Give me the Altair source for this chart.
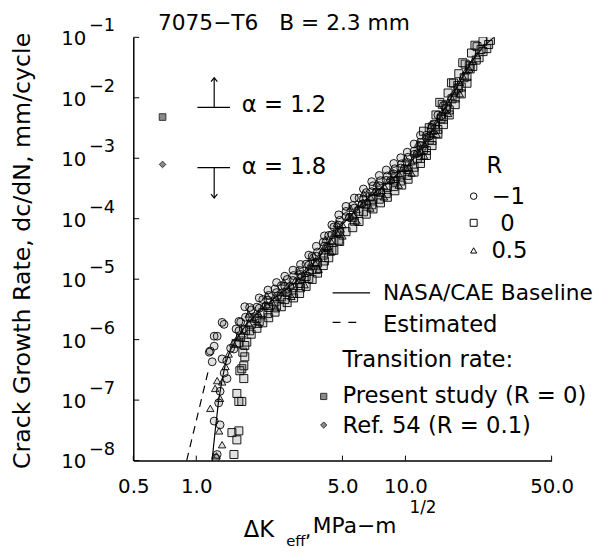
import altair as alt
import pandas as pd

# ---------------- data ----------------
# R = -1 (circles)
circ_dk = [1.706, 1.358, 1.329, 1.218, 1.259, 1.167, 1.154, 1.192, 1.329, 1.514, 1.218, 1.403,
           1.218, 1.300, 1.259, 1.24,
           1.55, 1.63, 1.72, 1.83, 1.95, 2.08, 2.22, 2.38, 2.55, 2.72, 2.92, 3.12, 3.35, 3.58,
           3.80, 4.05, 4.30, 4.55, 4.85, 5.2, 5.6, 6.0, 6.5, 7.0, 7.6, 8.2, 8.9, 9.6, 10.3,
           11.0, 11.8, 12.6, 13.4, 14.3, 15.2,
           1.68, 1.9, 2.15, 2.45, 2.8, 3.2, 3.7, 4.2, 4.7, 5.4, 6.2, 7.3, 8.5, 9.9, 11.4, 13.0, 14.8,
           1.30, 1.36, 1.40, 1.46, 1.28,
           1.6, 1.8, 2.0, 2.2, 2.42, 2.65, 2.9, 3.15, 3.45, 3.75, 4.1, 4.45, 4.8, 5.2, 5.7, 6.3, 6.9,
           7.5, 8.1, 8.8, 9.5, 10.2, 11.0, 11.8, 12.6, 13.4,
           1.6, 1.8, 2.0, 2.2, 2.42, 2.65, 2.9, 3.15, 3.45, 3.75, 4.1, 4.45, 4.8, 5.2, 5.7, 6.3, 6.9,
           7.5, 8.1, 8.8, 9.5, 10.2, 11.0, 11.8]
circ_rate = [3.5e-6, 1.79e-6, 1.93e-6, 1.14e-6, 1.14e-6, 6.5e-7, 6.2e-7, 4.3e-7, 4.8e-7, 7.0e-7, 7.8e-7, 2.27e-7,
             4.5e-8, 3.9e-8, 1.26e-8, 1.1e-8,
             1.5e-6, 1.95e-6, 2.35e-6, 3.1e-6, 3.45e-6, 4.6e-6, 5.4e-6, 6.9e-6, 7.8e-6, 9.9e-6, 1.15e-5, 1.4e-5,
             1.77e-5, 2.4e-5, 2.8e-5, 4.1e-5, 5.3e-5, 7.3e-5, 9.4e-5, 1.32e-4, 1.65e-4, 2.2e-4, 2.7e-4, 3.5e-4,
             4.25e-4, 5.1e-4, 6.7e-4, 8.1e-4, 1.04e-3, 1.31e-3, 1.83e-3, 2.4e-3, 3.5e-3, 5.2e-3, 7.5e-3,
             1.5e-6, 2.4e-6, 3.6e-6, 5.3e-6, 7.5e-6, 1.1e-5, 1.9e-5, 3.4e-5, 6.0e-5, 1.05e-4, 1.75e-4, 2.8e-4,
             4.3e-4, 6.8e-4, 1.2e-3, 2.3e-3, 5.0e-3,
             1.4e-7, 2.8e-7, 4.5e-7, 7.2e-7, 9e-8,
             1.4e-6, 2.3e-6, 3.3e-6, 4.5e-6, 6.0e-6, 7.6e-6, 9.5e-6, 1.2e-5, 1.7e-5, 2.4e-5, 3.5e-5, 5.4e-5,
             7.8e-5, 1.08e-4, 1.5e-4, 2.1e-4, 2.8e-4, 3.5e-4, 4.3e-4, 5.5e-4, 6.9e-4, 8.5e-4, 1.16e-3,
             1.62e-3, 2.2e-3, 3.2e-3,
             2.0e-6, 3.4e-6, 4.9e-6, 6.6e-6, 8.8e-6, 1.12e-5, 1.41e-5, 1.75e-5, 2.5e-5, 3.5e-5, 5.2e-5, 7.9e-5,
             1.16e-4, 1.6e-4, 2.2e-4, 3.1e-4, 4.1e-4, 5.2e-4, 6.4e-4, 8.2e-4, 1.02e-3, 1.26e-3, 1.72e-3, 2.4e-3]

# R = 0 (squares)
sq_dk = [1.744, 1.706, 1.67, 1.688, 1.651, 1.616, 1.688, 1.564, 1.598, 1.651, 1.481, 1.598, 1.564, 1.514, 1.706,
         1.6, 1.8, 2.0, 2.2, 2.42, 2.65, 2.9, 3.15, 3.45, 3.75, 4.1, 4.45, 4.8, 5.2, 5.7, 6.3, 6.9, 7.5, 8.1,
         8.8, 9.5, 10.2, 11.0, 11.8, 12.6, 13.4, 14.3, 15.2, 16.2, 17.3, 18.5, 19.7, 21.0, 22.5, 24.5,
         13.0, 14.0, 15.0, 16.0, 17.0, 18.0, 19.3, 20.7, 22.0, 23.5, 25.5,
         12.0, 13.8, 15.6, 17.8, 20.2, 23.0, 9.0, 6.8,
         1.55, 1.63, 1.72, 1.83, 1.95, 2.08, 2.22, 2.38, 2.55, 2.72, 2.92, 3.12, 3.35, 3.58, 3.80, 4.05,
         4.30, 4.55, 4.85, 5.6, 6.0, 6.5, 7.0, 7.6, 8.2, 8.9, 9.6, 10.3, 11.4, 12.2, 13.0, 13.9, 14.8,
         15.7, 16.7, 17.9, 19.1, 20.4, 21.8, 23.5, 25.0,
         1.83, 1.95, 2.08, 2.22, 2.38, 2.55, 2.72, 2.92, 3.12, 3.35, 3.58, 3.80, 4.05, 4.30, 4.55, 4.85,
         5.6, 6.0, 6.5, 7.0, 7.6, 8.2, 8.9, 9.6, 10.3, 11.0, 11.8, 12.6, 13.4, 14.3, 15.2, 16.2, 17.3,
         18.5, 19.7,
         12.2, 14.6, 16.6, 18.8, 21.5]
sq_rate = [9.1e-7, 5.2e-7, 6.2e-7, 3.7e-7, 3.3e-7, 3.06e-7, 2.27e-7, 1.29e-7, 9.5e-8, 9.5e-8, 2.9e-8, 3.1e-8,
           2.2e-8, 1.26e-8, 8.0e-7,
           8.9e-7, 1.4e-6, 2.0e-6, 2.7e-6, 3.6e-6, 4.6e-6, 5.8e-6, 7.2e-6, 1.03e-5, 1.44e-5, 2.0e-5, 3.0e-5,
           4.4e-5, 6.1e-5, 9.1e-5, 1.3e-4, 1.7e-4, 2.1e-4, 2.6e-4, 3.4e-4, 4.2e-4, 5.2e-4, 7.1e-4, 9.9e-4,
           1.34e-3, 1.96e-3, 3.0e-3, 4.4e-3, 6.3e-3, 9.9e-3, 1.5e-2, 2.25e-2, 3.3e-2, 4.6e-2, 6.5e-2,
           3.2e-3, 5.2e-3, 7.8e-3, 1.2e-2, 1.75e-2, 2.5e-2, 3.6e-2, 5.5e-2, 7.0e-2, 8.6e-2, 8.9e-2,
           1.6e-3, 3.6e-3, 7.3e-3, 1.6e-2, 3.4e-2, 6.3e-2, 5.0e-4, 2.3e-4,
           8.6e-7, 1.1e-6, 1.43e-6, 1.8e-6, 2.25e-6, 2.8e-6, 3.4e-6, 4.2e-6, 5.1e-6, 6.0e-6, 7.2e-6, 8.5e-6,
           1.11e-5, 1.45e-5, 1.85e-5, 2.5e-5, 3.3e-5, 4.4e-5, 6.1e-5, 1.04e-4, 1.33e-4, 1.74e-4, 2.1e-4,
           2.7e-4, 3.3e-4, 4.2e-4, 5.3e-4, 6.5e-4, 1.0e-3, 1.4e-3, 2.0e-3, 3.0e-3, 4.5e-3, 6.6e-3, 9.6e-3,
           1.45e-2, 2.15e-2, 3.0e-2, 4.2e-2, 5.8e-2, 7.6e-2,
           1.23e-6, 1.54e-6, 1.9e-6, 2.3e-6, 2.85e-6, 3.5e-6, 4.1e-6, 4.9e-6, 5.8e-6, 7.6e-6, 9.9e-6, 1.26e-5,
           1.68e-5, 2.26e-5, 3.0e-5, 4.2e-5, 7.1e-5, 9.0e-5, 1.19e-4, 1.45e-4, 1.83e-4, 2.26e-4, 2.9e-4,
           3.6e-4, 4.5e-4, 5.9e-4, 8.2e-4, 1.11e-3, 1.62e-3, 2.5e-3, 3.6e-3, 5.2e-3, 7.7e-3, 1.16e-2, 1.74e-2,
           2.8e-3, 8.4e-3, 1.77e-2, 3.8e-2, 7.4e-2]

# R = 0.5 (triangles)
tri_dk = [1.231, 1.167, 1.300, 1.286, 1.329, 1.259,
          1.33, 1.38, 1.43, 1.50, 1.25,
          1.58, 1.78, 1.98, 2.18, 2.4, 2.62, 2.85, 3.08, 3.3, 3.55, 3.85, 4.15, 4.4, 4.7, 5.0, 5.45, 5.85,
          6.3, 6.8, 7.3, 7.9, 8.6, 9.3, 10.0, 10.7, 11.5, 12.3, 13.2, 14.1, 15.0, 16.0, 17.0, 18.2, 19.5, 21.0,
          1.65, 1.88, 2.1, 2.3, 2.52, 2.75, 2.98, 3.22, 3.45, 3.7, 4.0, 4.28, 4.58, 4.9, 5.3, 5.65, 6.1,
          6.6, 7.1, 7.7, 8.3, 8.95, 9.7, 10.4, 11.2, 11.9, 12.8, 13.6, 14.6, 15.5, 16.5, 17.6, 18.8, 20.2, 22.0,
          1.78, 2.18, 2.62, 3.08, 3.55, 4.15, 4.7, 5.45, 6.3, 7.3, 8.6, 10.0, 11.5, 13.2,
          1.98, 2.4, 2.85, 3.3, 3.85, 4.4, 5.0, 5.85, 6.8, 7.9, 9.3, 10.7, 12.3, 14.1, 16.0, 18.2]
tri_rate = [1.56e-7, 7.3e-8, 1.07e-7, 3.1e-8, 1.83e-8, 2.1e-7,
            2.0e-7, 3.6e-7, 5.8e-7, 8.8e-7, 1.2e-8,
            1.1e-6, 1.9e-6, 2.75e-6, 3.8e-6, 5.0e-6, 6.4e-6, 8.0e-6, 9.6e-6, 1.25e-5, 1.65e-5, 2.25e-5, 3.3e-5,
            4.3e-5, 6.0e-5, 8.0e-5, 1.08e-4, 1.42e-4, 1.85e-4, 2.3e-4, 2.8e-4, 3.5e-4, 4.4e-4, 5.6e-4, 7.0e-4,
            8.8e-4, 1.25e-3, 1.7e-3, 2.5e-3, 3.9e-3, 5.8e-3, 8.5e-3, 1.2e-2, 1.8e-2, 2.8e-2, 4.0e-2,
            1.25e-6, 2.2e-6, 3.6e-6, 4.2e-6, 6.0e-6, 6.9e-6, 9.6e-6, 1.0e-5, 1.6e-5, 1.85e-5, 2.95e-5, 3.5e-5,
            5.8e-5, 6.8e-5, 1.08e-4, 1.15e-4, 1.8e-4, 1.95e-4, 2.85e-4, 2.95e-4, 4.3e-4, 4.5e-4, 6.9e-4,
            7.0e-4, 1.2e-3, 1.3e-3, 2.3e-3, 2.8e-3, 5.0e-3, 6.2e-3, 1.05e-2, 1.35e-2, 2.3e-2, 3.0e-2, 5.0e-2,
            2.66e-6, 5.3e-6, 9.0e-6, 1.34e-5, 2.3e-5, 4.6e-5, 8.4e-5, 1.5e-4, 2.6e-4, 3.9e-4, 6.2e-4, 9.8e-4,
            1.75e-3, 3.5e-3,
            1.8e-6, 3.25e-6, 5.2e-6, 8.1e-6, 1.46e-5, 2.8e-5, 5.2e-5, 9.2e-5, 1.5e-4, 2.3e-4, 3.6e-4, 5.7e-4,
            1.1e-3, 2.5e-3, 5.5e-3, 1.17e-2]

# NASA/CAE baseline (solid) and estimated (dashed)
base_dk = [1.19, 1.23, 1.28, 1.33, 1.38, 1.45, 1.55, 1.74, 2.05, 2.47, 3.17, 3.94, 4.9, 6.4, 8.4, 10.5,
           12.7, 14.8, 17.1, 20.1, 23.6, 26.5]
base_rate = [1e-8, 3e-8, 1e-7, 2.2e-7, 4.0e-7, 6.5e-7, 1.0e-6, 1.8e-6, 3.2e-6, 5.5e-6, 1.05e-5, 2.5e-5,
             7.5e-5, 2.0e-4, 4.2e-4, 8.2e-4, 2.0e-3, 5.3e-3, 1.22e-2, 3.4e-2, 7.1e-2, 1e-1]
est_dk = [0.90, 1.14]
est_rate = [1e-8, 3e-7]

# transition rates
trans_dk = [0.69, 0.69]
trans_rate = [4.8e-3, 7.9e-4]

x_ticks = [0.5, 1.0, 5.0, 10.0, 50.0]
y_ticks = [1e-1, 1e-2, 1e-3, 1e-4, 1e-5, 1e-6, 1e-7, 1e-8]
y_exp = ["\u22121", "\u22122", "\u22123", "\u22124", "\u22125", "\u22126", "\u22127", "\u22128"]

# ---------------- chart ----------------
W, H = 424, 429
FONT = "DejaVu Sans"
xs = alt.Scale(type="log", domain=[0.5, 50], nice=False)
ys = alt.Scale(type="log", domain=[1e-8, 1e-1], nice=False)
xax = alt.Axis(values=x_ticks, format=".1f", ticks=False, grid=False, title=None,
               labelFont=FONT, labelFontSize=20, labelColor="black",
               labelPadding=16, labelFlush=False, domainColor="black", domainWidth=1.5)
yax = alt.Axis(labels=False, ticks=False, grid=False, title=None, domainColor="black", domainWidth=1.5)


def X(f):
    return alt.X(f, scale=xs, axis=xax)


def Y(f):
    return alt.Y(f, scale=ys, axis=yax)


def series(dk, rate, shape, size):
    df = pd.DataFrame({"dk": dk, "rate": rate})
    return alt.Chart(df).mark_point(shape=shape, size=size, fill="#444444", fillOpacity=0.16,
                                    stroke="black", strokeWidth=1, strokeOpacity=0.9, clip=True).encode(
        x=X("dk:Q"), y=Y("rate:Q"))


def txt(s, x, y, size=23, align="left", baseline="alphabetic", angle=0):
    return alt.Chart(pd.DataFrame({"t": [s]})).mark_text(
        align=align, baseline=baseline, fontSize=size, font=FONT, color="black", angle=angle
    ).encode(x=alt.value(x), y=alt.value(y), text="t:N")


def sym(shape, x, y, size, fill="white", stroke="black"):
    return alt.Chart(pd.DataFrame({"a": [0]})).mark_point(
        shape=shape, size=size, fill=fill, stroke=stroke, strokeWidth=1, opacity=1, fillOpacity=1
    ).encode(x=alt.value(x), y=alt.value(y))


def seg(x1, x2, y1, y2, dash=None):
    kw = dict(color="black", strokeWidth=1.2)
    if dash:
        kw["strokeDash"] = dash
    return alt.Chart(pd.DataFrame({"a": [0]})).mark_rule(**kw).encode(
        x=alt.value(x1), x2=alt.value(x2), y=alt.value(y1), y2=alt.value(y2))


base = alt.Chart(pd.DataFrame({"dk": base_dk, "rate": base_rate})).mark_line(
    color="black", strokeWidth=1.2, clip=True).encode(x=X("dk:Q"), y=Y("rate:Q"))

est = alt.Chart(pd.DataFrame({"dk": est_dk, "rate": est_rate})).mark_line(
    color="black", strokeWidth=1.2, strokeDash=[8, 6], clip=True).encode(x=X("dk:Q"), y=Y("rate:Q"))

trans_sq = alt.Chart(pd.DataFrame({"dk": trans_dk[:1], "rate": trans_rate[:1]})).mark_point(
    shape="square", size=45, fill="#8a8a8a", stroke="#333333", strokeWidth=1, opacity=1, fillOpacity=1).encode(
    x=X("dk:Q"), y=Y("rate:Q"))
trans_di = alt.Chart(pd.DataFrame({"dk": trans_dk[1:], "rate": trans_rate[1:]})).mark_point(
    shape="diamond", size=45, fill="#8a8a8a", stroke="#333333", strokeWidth=1, opacity=1, fillOpacity=1).encode(
    x=X("dk:Q"), y=Y("rate:Q"))

xt = alt.Chart(pd.DataFrame({"v": x_ticks})).mark_rule(color="black", strokeWidth=1).encode(
    x=X("v:Q"), y=alt.value(H), y2=alt.value(H - 5))
yt = alt.Chart(pd.DataFrame({"v": y_ticks})).mark_rule(color="black", strokeWidth=1).encode(
    y=Y("v:Q"), x=alt.value(0), x2=alt.value(6))

ydf = pd.DataFrame({"v": y_ticks, "b": ["10"] * len(y_ticks), "e": y_exp})
ylab = alt.Chart(ydf).mark_text(align="left", baseline="middle", fontSize=20, font=FONT, color="black",
                                dy=2).encode(y=Y("v:Q"), x=alt.value(-73), text="b:N")
yexp = alt.Chart(ydf).mark_text(align="left", baseline="alphabetic", fontSize=18, font=FONT, color="black",
                                dy=-6).encode(y=Y("v:Q"), x=alt.value(-45), text="e:N")

up_head = "M-0.8,1L0,0L0.8,1"
down_head = "M-0.8,-1L0,0L0.8,-1"
arrows = [
    seg(65, 98, 71, 71), seg(82, 82, 71, 42),
    alt.Chart(pd.DataFrame({"a": [0]})).mark_point(shape=up_head, size=64, filled=False, stroke="black",
                                                   strokeWidth=1.2, opacity=1).encode(x=alt.value(82), y=alt.value(41)),
    seg(65, 98, 132, 132), seg(82, 82, 132, 162),
    alt.Chart(pd.DataFrame({"a": [0]})).mark_point(shape=down_head, size=64, filled=False, stroke="black",
                                                   strokeWidth=1.2, opacity=1).encode(x=alt.value(82), y=alt.value(163)),
]

texts = [
    txt("7075\u2212T6", 25, -7, size=22),
    txt("B = 2.3 mm", 148, -7, size=22),
    txt("\u03b1 = 1.2", 110, 76),
    txt("\u03b1 = 1.8", 110, 139),
    txt("R", 358, 138),
    txt("\u22121", 363, 169),
    txt("0", 372, 196),
    txt("0.5", 363, 224),
    txt("NASA/CAE Baseline", 253, 266, size=22),
    txt("Estimated", 253, 299),
    txt("Transition rate:", 212, 334),
    txt("Present study (R = 0)", 212, 371),
    txt("Ref. 54 (R = 0.1)", 212, 401),
    txt("Crack Growth Rate, dc/dN, mm/cycle", -112, H / 2 + 2, size=24, align="center", baseline="middle",
        angle=270),
    txt("\u0394K", 112, 506, size=23),
    txt("eff", 155, 516, size=15),
    txt(",", 174, 506, size=20),
    txt("MPa\u2212m", 182, 502, size=22),
    txt("1/2", 280, 482, size=17),
]

legend_syms = [
    sym("circle", 345, 161, 44),
    sym("square", 345, 188, 50),
    sym("triangle-up", 345, 216, 38),
    seg(202, 240, 259, 259),
    seg(202, 226, 289, 289, dash=[8, 8]),
    sym("square", 193, 364, 40, fill="#8a8a8a", stroke="#333333"),
    sym("diamond", 193, 393, 40, fill="#8a8a8a", stroke="#333333"),
]

layers = [base, est,
          series(sq_dk, sq_rate, "square", 66),
          series(tri_dk, tri_rate, "triangle-up", 56),
          series(circ_dk, circ_rate, "circle", 64),
          trans_sq, trans_di, xt, yt, ylab, yexp] + arrows + texts + legend_syms

chart = alt.layer(*layers).properties(
    width=W, height=H,
    padding={"left": 127, "top": 26, "right": 45, "bottom": 92},
    autosize=alt.AutoSizeParams(type="none"),
    background="white",
).configure_view(stroke=None)

chart.save("out.html", embed_options={"renderer": "svg", "actions": False})
